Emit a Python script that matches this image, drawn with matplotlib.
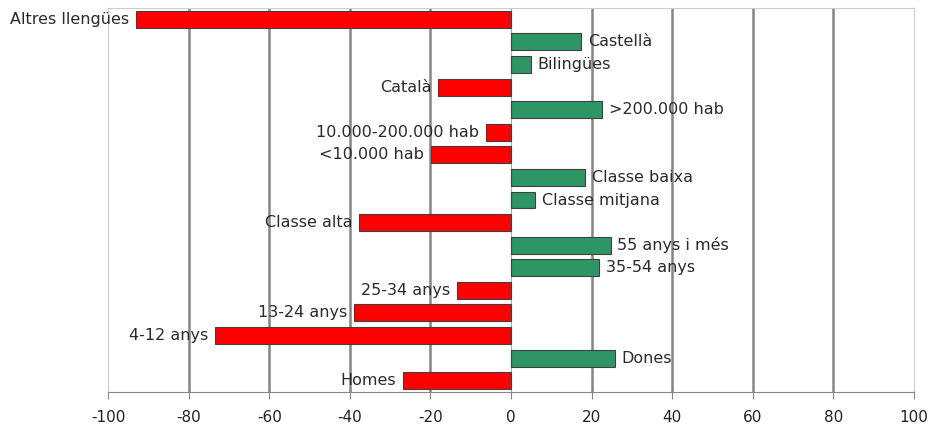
import matplotlib
matplotlib.use("Agg")
import matplotlib.pyplot as plt
import numpy as np

# categories top -> bottom
categories = ["Altres llengües", "Castellà", "Bilingües", "Català",
              ">200.000 hab", "10.000-200.000 hab", "<10.000 hab",
              "Classe baixa", "Classe mitjana", "Classe alta",
              "55 anys i més", "35-54 anys", "25-34 anys", "13-24 anys",
              "4-12 anys", "Dones", "Homes"]
values = [-93, 17.4, 4.9, -18, 22.6, -6.1, -19.8, 18.4, 6, -37.7,
          24.7, 21.8, -13.3, -39, -73.5, 25.7, -26.8]
xticks = [-100, -80, -60, -40, -20, 0, 20, 40, 60, 80, 100]

plt.rcParams['font.family'] = ['DejaVu Sans']

fig = plt.figure(figsize=(9.37, 4.29), dpi=100)
ax = fig.add_axes([108/937, 1-392/429, 806/937, 384/429])

y = np.arange(len(categories))[::-1]
colors = ['#ff0000' if v < 0 else '#2e9664' for v in values]
ax.barh(y, values, height=0.75, color=colors, edgecolor='#404040',
        linewidth=0.8, zorder=3)

for yi, v, lab in zip(y, values, categories):
    if v < 0:
        ax.annotate(lab, (v, yi), xytext=(-5, 0), textcoords='offset points',
                    ha='right', va='center', fontsize=11.5, color='#2a2a2a',
                    annotation_clip=False)
    else:
        ax.annotate(lab, (v, yi), xytext=(5, 0), textcoords='offset points',
                    ha='left', va='center', fontsize=11.5, color='#2a2a2a',
                    annotation_clip=False)

ax.set_xlim(-100, 100)
ax.set_ylim(-0.5, len(categories) - 0.5)
ax.set_xticks(xticks)
ax.set_xticklabels([str(t) for t in xticks], fontsize=11, color='#222222')
ax.set_yticks([])
ax.tick_params(axis='x', direction='out', length=5, color='#888888', pad=8)

for t in xticks[1:-1]:
    if t == 0:
        ax.axvline(t, color='#aaaaaa', linewidth=0.8, zorder=1)
    else:
        ax.axvline(t, color='#858585', linewidth=1.8, zorder=1)

for side in ['top', 'right', 'left']:
    ax.spines[side].set_color('#cccccc')
ax.spines['bottom'].set_color('#888888')

fig.savefig("out.png", dpi=100)
